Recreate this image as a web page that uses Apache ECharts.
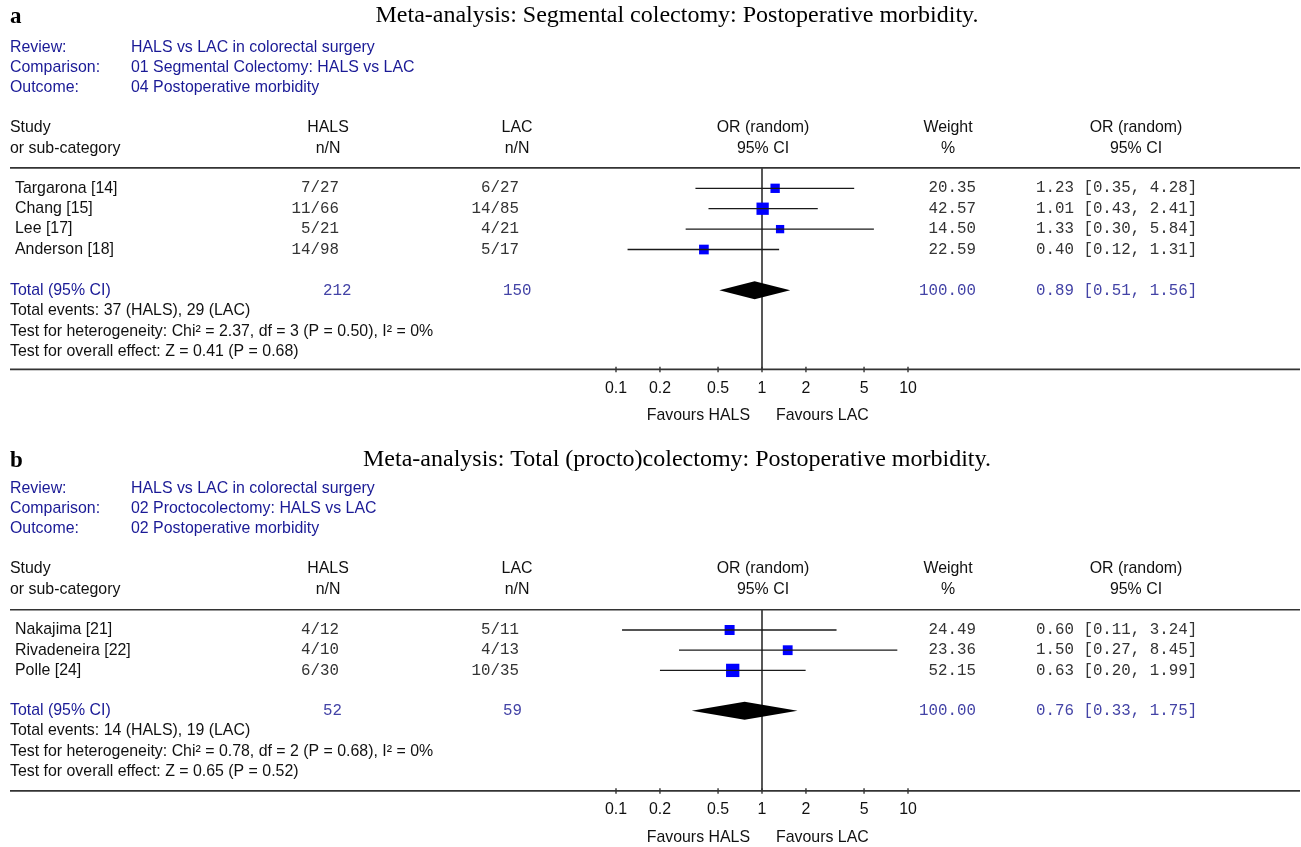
<!DOCTYPE html>
<html>
<head>
<meta charset="utf-8">
<script src="https://cdn.jsdelivr.net/npm/echarts@6/dist/echarts.min.js"></script>
<style>html,body{margin:0;background:#fff}#main{width:1301px;height:847px}</style>
</head>
<body>
<div id="main"></div>
<script>
// ---- panel a: segmental colectomy ----
var titleA = 'Meta-analysis: Segmental colectomy: Postoperative morbidity.';
var reviewA = ['HALS vs LAC in colorectal surgery', '01 Segmental Colectomy: HALS vs LAC', '04 Postoperative morbidity'];
var studiesA = ['Targarona [14]', 'Chang [15]', 'Lee [17]', 'Anderson [18]'];
var halsA = ['7/27', '11/66', '5/21', '14/98'];
var lacA = ['6/27', '14/85', '4/21', '5/17'];
var weightA = [20.35, 42.57, 14.50, 22.59];
var orA = [1.23, 1.01, 1.33, 0.40];
var loA = [0.35, 0.43, 0.30, 0.12];
var hiA = [4.28, 2.41, 5.84, 1.31];
var totalA = [0.89, 0.51, 1.56];       // OR, lower, upper
var totalNA = ['212', '150'];
var totalWeightA = 100.00;
var footA = ['Total events: 37 (HALS), 29 (LAC)',
             'Test for heterogeneity: Chi\u00b2 = 2.37, df = 3 (P = 0.50), I\u00b2 = 0%',
             'Test for overall effect: Z = 0.41 (P = 0.68)'];

// ---- panel b: total (procto)colectomy ----
var titleB = 'Meta-analysis: Total (procto)colectomy: Postoperative morbidity.';
var reviewB = ['HALS vs LAC in colorectal surgery', '02 Proctocolectomy: HALS vs LAC', '02 Postoperative morbidity'];
var studiesB = ['Nakajima [21]', 'Rivadeneira [22]', 'Polle [24]'];
var halsB = ['4/12', '4/10', '6/30'];
var lacB = ['5/11', '4/13', '10/35'];
var weightB = [24.49, 23.36, 52.15];
var orB = [0.60, 1.50, 0.63];
var loB = [0.11, 0.27, 0.20];
var hiB = [3.24, 8.45, 1.99];
var totalB = [0.76, 0.33, 1.75];
var totalNB = ['52', '59'];
var totalWeightB = 100.00;
var footB = ['Total events: 14 (HALS), 19 (LAC)',
             'Test for heterogeneity: Chi\u00b2 = 0.78, df = 2 (P = 0.68), I\u00b2 = 0%',
             'Test for overall effect: Z = 0.65 (P = 0.52)'];

// shared
var ticks = [0.1, 0.2, 0.5, 1, 2, 5, 10];
var favours = ['Favours HALS', 'Favours LAC'];
var reviewLabels = ['Review:', 'Comparison:', 'Outcome:'];
var headTop = ['HALS', 'LAC', 'OR (random)', 'Weight', 'OR (random)'];
var headBottom = ['n/N', 'n/N', '95% CI', '%', '95% CI'];

var SANS = '15.9px "Liberation Sans", Arial, sans-serif';
var MONO = '15.8px "Liberation Mono", "Courier New", monospace';
var BLUE = '#1a1a96';
var MBLUE = '#4343a6';
var GREY = '#333';

function txt(text, x, y, font, fill, align) {
  align = align || 'left';
  return {type: 'text', x: x, y: y, silent: true,
    style: {text: text, font: font, fill: fill || '#111',
      align: align, verticalAlign: 'middle', textAlign: align, textVerticalAlign: 'middle'}};
}
function ln(x1, y1, x2, y2, color, w) {
  return {type: 'line', silent: true, shape: {x1: x1, y1: y1, x2: x2, y2: y2},
    style: {stroke: color, lineWidth: w}};
}
function fmtCI(o, l, h) {
  return o.toFixed(2) + ' [' + l.toFixed(2) + ', ' + h.toFixed(2) + ']';
}

var panels = [
  {label: 'a', title: titleA, review: reviewA, studies: studiesA, hals: halsA, lac: lacA,
   weight: weightA, or: orA, lo: loA, hi: hiA, total: totalA, totalN: totalNA,
   totalWeight: totalWeightA, foot: footA, yMax: 8.87, dy: 0, ty: 16},
  {label: 'b', title: titleB, review: reviewB, studies: studiesB, hals: halsB, lac: lacB,
   weight: weightB, or: orB, lo: loB, hi: hiB, total: totalB, totalN: totalNB,
   totalWeight: totalWeightB, foot: footB, yMax: 7.96, dy: 441, ty: 19}
];

// header block of each panel
var headX = [328, 517, 763, 948, 1136];
var graphics = [];
panels.forEach(function (p) {
  var d = p.dy;
  graphics.push(txt(p.label, 10, p.ty + 1 + d, 'bold 23px "Liberation Serif", serif', '#000'));
  graphics.push(txt(p.title, 677, p.ty + d, '24px "Liberation Serif", serif', '#000', 'center'));
  reviewLabels.forEach(function (r, k) {
    graphics.push(txt(r, 10, 48 + 20 * k + d, SANS, BLUE));
    graphics.push(txt(p.review[k], 131, 48 + 20 * k + d, SANS, BLUE));
  });
  graphics.push(txt('Study', 10, 128 + d, SANS));
  graphics.push(txt('or sub-category', 10, 149 + d, SANS));
  headTop.forEach(function (h, k) {
    graphics.push(txt(h, headX[k], 128 + d, SANS, '#111', 'center'));
    graphics.push(txt(headBottom[k], headX[k], 149 + d, SANS, '#111', 'center'));
  });
});

function frameRenderer(params, api) {
  var yMax = api.value(1);
  var top = api.coord([1, -1]);
  var bot = api.coord([1, yMax]);
  var x1 = top[0], yT = top[1], yB = bot[1];
  var els = [ln(10, yT, 1300, yT, '#333', 1.6), ln(10, yB, 1300, yB, '#333', 1.8),
             ln(x1, yT, x1, yB, '#3a3a3a', 1.7)];
  ticks.forEach(function (v) {
    var x = api.coord([v, yMax])[0];
    els.push(ln(x, yB - 2.5, x, yB + 3, '#333', 1.4));
    els.push(txt(String(v), x, yB + 19, SANS, '#111', 'center'));
  });
  els.push(txt(favours[0], x1 - 12, yB + 46.5, SANS, '#111', 'right'));
  els.push(txt(favours[1], x1 + 14, yB + 46.5, SANS, '#111', 'left'));
  return {type: 'group', children: els};
}

function tableRenderer(p) {
  return function (params, api) {
    var i = params.dataIndex, n = p.studies.length;
    var y = api.coord([1, api.value(1)])[1];
    if (i < n) {
      return {type: 'group', children: [
        txt(p.studies[i], 15, y, SANS),
        txt(p.hals[i], 339, y, MONO, GREY, 'right'),
        txt(p.lac[i], 519, y, MONO, GREY, 'right'),
        txt(p.weight[i].toFixed(2), 976, y, MONO, GREY, 'right'),
        txt(fmtCI(p.or[i], p.lo[i], p.hi[i]), 1036, y, MONO, GREY, 'left')]};
    }
    if (i === n) {
      return {type: 'group', children: [
        txt('Total (95% CI)', 10, y, SANS, BLUE),
        txt(p.totalN[0], 323, y, MONO, MBLUE, 'left'),
        txt(p.totalN[1], 503, y, MONO, MBLUE, 'left'),
        txt(p.totalWeight.toFixed(2), 976, y, MONO, MBLUE, 'right'),
        txt(fmtCI(p.total[0], p.total[1], p.total[2]), 1036, y, MONO, MBLUE, 'left')]};
    }
    return txt(p.foot[i - n - 1], 10, y, SANS);
  };
}

var series = [];
panels.forEach(function (p, g) {
  var n = p.studies.length;
  var rows = [];
  for (var i = 0; i < n; i++) rows.push([1, i]);
  for (var k = 0; k < 4; k++) rows.push([1, n + 1 + k]);

  series.push({type: 'custom', xAxisIndex: g, yAxisIndex: g, z: 1, silent: true,
    data: [[1, p.yMax]], renderItem: frameRenderer});
  series.push({type: 'scatter', xAxisIndex: g, yAxisIndex: g, z: 2, silent: true,
    symbol: 'rect',
    symbolSize: function (v) { return 2.7 + 1.47 * Math.sqrt(v[2]); },
    itemStyle: {color: '#0000ff', opacity: 1},
    data: p.studies.map(function (s, i) { return [p.or[i], i, p.weight[i]]; })});
  series.push({type: 'custom', xAxisIndex: g, yAxisIndex: g, z: 3, silent: true,
    data: p.studies.map(function (s, i) { return [p.lo[i], i, p.hi[i]]; }),
    renderItem: function (params, api) {
      var a = api.coord([api.value(0), api.value(1)]);
      var b = api.coord([api.value(2), api.value(1)]);
      return ln(a[0], a[1], b[0], b[1], '#1a1a1a', 1.3);
    }});
  series.push({type: 'custom', xAxisIndex: g, yAxisIndex: g, z: 3, silent: true,
    data: [[p.total[0], n + 1, p.total[1], p.total[2]]],
    renderItem: function (params, api) {
      var row = api.value(1);
      var c = api.coord([api.value(0), row]);
      var l = api.coord([api.value(2), row]);
      var r = api.coord([api.value(3), row]);
      return {type: 'polygon', silent: true,
        shape: {points: [[l[0], c[1]], [c[0], c[1] - 9], [r[0], c[1]], [c[0], c[1] + 9]]},
        style: {fill: '#000'}};
    }});
  series.push({type: 'custom', xAxisIndex: g, yAxisIndex: g, z: 3, silent: true,
    data: rows, renderItem: tableRenderer(p)});
});

var chart = echarts.init(document.getElementById('main'));
chart.setOption({
  animation: false,
  backgroundColor: '#fff',
  graphic: {elements: graphics},
  grid: [
    {left: 616, width: 292, top: 167.9, height: 201.4},
    {left: 616, width: 292, top: 609.8, height: 181}
  ],
  xAxis: [0, 1].map(function (g) {
    return {type: 'log', gridIndex: g, min: 0.1, max: 10, logBase: 10, show: false};
  }),
  yAxis: panels.map(function (p, g) {
    return {type: 'value', gridIndex: g, min: -1, max: p.yMax, inverse: true, show: false};
  }),
  series: series
});
</script>
</body>
</html>
